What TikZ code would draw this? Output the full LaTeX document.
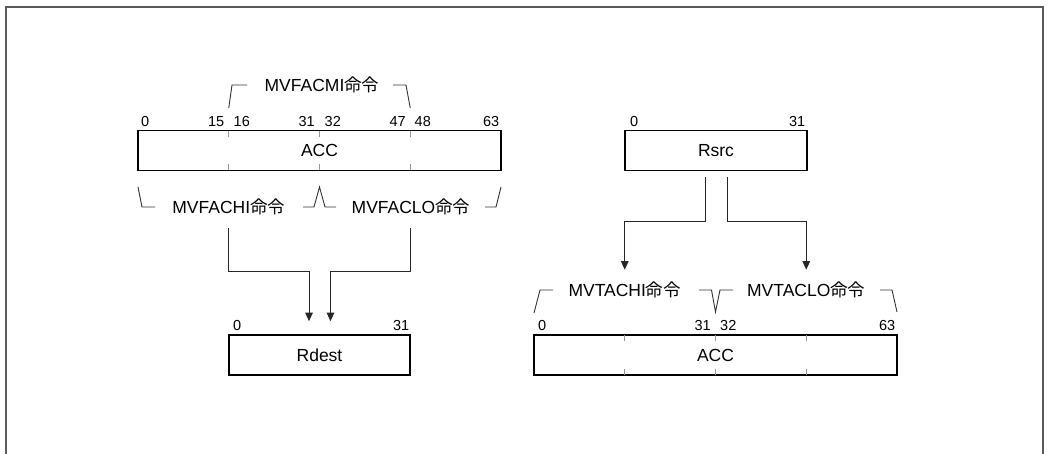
\documentclass[tikz,border=0pt]{standalone}
\usepackage{fontspec}
\setmainfont{Liberation Sans}
\newfontfamily\cjk{Noto Sans CJK JP}
\usetikzlibrary{arrows.meta}
\definecolor{framegray}{RGB}{90,90,90}
\definecolor{tickgray}{RGB}{150,150,150}
\newcommand{\meirei}{{\cjk 命令}}

\begin{document}
\begin{tikzpicture}[x=1pt,y=-1pt,
    regbox/.style={draw=black,line width=1.6pt,minimum height=40pt,inner sep=0pt,font=\fontsize{17.5}{20}\selectfont},
    bitnum/.style={font=\fontsize{14.5}{17}\selectfont,inner sep=0pt},
    cmdlabel/.style={font=\fontsize{17.5}{20}\selectfont,inner sep=0pt},
    bracketline/.style={draw=black!80,line width=0.9pt},
    bittick/.style={draw=tickgray,line width=0.9pt},
    flowarrow/.style={draw=black!85,line width=1pt,-{Triangle[length=8.5pt,width=7.5pt]}}]
    \useasboundingbox (0,0) rectangle (1049,454);

    % Frame (open at the bottom)
    \draw[framegray,line width=1.4pt] (6,454) -- (6,7) -- (1043,7) -- (1043,454);

    % ---------------- left: ACC -> Rdest ----------------
    \node[regbox,minimum width=363pt] (accL) at (319.5,150.5) {ACC};
    \foreach \x in {228.75,319.5,410.25} {
        \draw[bittick] (\x,131) -- ++(0,6);
        \draw[bittick] (\x,170) -- ++(0,-6);
    }
    \foreach \x/\n in {141/0,233.5/16,324.5/32,414.5/48}
        \node[bitnum,anchor=base west] (accLb\n) at (\x,126.5) {\n};
    \foreach \x/\n in {224.5/15,315/31,406/47,499.5/63}
        \node[bitnum,anchor=base east] (accLb\n) at (\x,126.5) {\n};

    % MVFACMI bracket
    \node[cmdlabel] (cmdMI) at (322,85) {MVFACMI\meirei};
    \draw[bracketline] (228.75,108) -- (232,85) -- (247,85);
    \draw[bracketline] (393,85) -- (406,85) -- (410.25,108);

    % MVFACHI / MVFACLO brackets
    \node[cmdlabel] (cmdHI) at (228.75,207) {MVFACHI\meirei};
    \node[cmdlabel] (cmdLO) at (411,207) {MVFACLO\meirei};
    \draw[bracketline] (138,187) -- (142,207) -- (155,207);
    \draw[bracketline] (303,207) -- (314,207) -- (319.5,187) -- (325,207) -- (336,207);
    \draw[bracketline] (485,207) -- (496,207) -- (501,187);

    \node[regbox,minimum width=181pt] (rdest) at (319.5,355) {Rdest};
    \node[bitnum,anchor=base west] (rdestb0) at (233,330) {0};
    \node[bitnum,anchor=base east] (rdestb31) at (409.5,330) {31};

    \coordinate (hiIn) at ([xshift=-10.5pt,yshift=13pt]rdest.north);
    \coordinate (loIn) at ([xshift=11pt,yshift=13pt]rdest.north);
    \draw[flowarrow] ([yshift=-13pt]cmdHI.south) -- ++(0,43) -| (hiIn);
    \draw[flowarrow] (cmdLO.south -| 410.25,0) ++(0,13) -- ++(0,43) -| (loIn);

    % ---------------- right: Rsrc -> ACC ----------------
    \node[regbox,minimum width=182pt] (rsrc) at (716,150.5) {Rsrc};
    \node[bitnum,anchor=base west] (rsrcb0) at (630,126.5) {0};
    \node[bitnum,anchor=base east] (rsrcb31) at (805.5,126.5) {31};

    \node[regbox,minimum width=363pt] (accR) at (715.5,355) {ACC};
    \foreach \x in {624.75,715.5,806.25} {
        \draw[bittick] (\x,335) -- ++(0,6);
        \draw[bittick] (\x,375) -- ++(0,-6);
    }
    \node[bitnum,anchor=base west] (accRb0) at (538,330) {0};
    \node[bitnum,anchor=base east] (accRb31) at (711,330) {31};
    \node[bitnum,anchor=base west] (accRb32) at (720,330) {32};
    \node[bitnum,anchor=base east] (accRb63) at (895.5,330) {63};

    % MVTACHI / MVTACLO brackets
    \node[cmdlabel] (cmdTHI) at (624.75,290) {MVTACHI\meirei};
    \node[cmdlabel] (cmdTLO) at (806.25,290) {MVTACLO\meirei};
    \draw[bracketline] (534,313) -- (540,290) -- (553,290);
    \draw[bracketline] (699,290) -- (711.5,290) -- (715.5,312) -- (720,290) -- (733,290);
    \draw[bracketline] (880,290) -- (892,290) -- (897,312);

    \draw[flowarrow] ([xshift=-11pt,yshift=-6pt]rsrc.south) -- ++(0,44.5) -| ([yshift=12pt]cmdTHI.north);
    \draw[flowarrow] ([xshift=11.5pt,yshift=-6pt]rsrc.south) -- ++(0,44.5) -| ([yshift=12pt]cmdTLO.north);
\end{tikzpicture}
\end{document}
